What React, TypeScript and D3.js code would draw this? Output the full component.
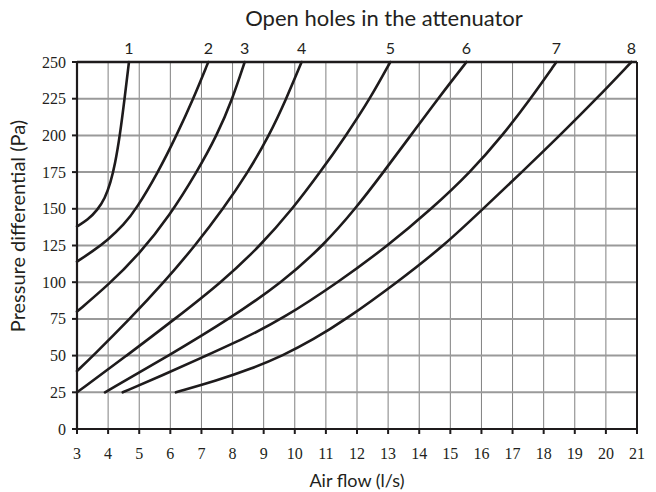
import React from "react";
import * as d3 from "d3";

const xTicks = [3, 4, 5, 6, 7, 8, 9, 10, 11, 12, 13, 14, 15, 16, 17, 18, 19, 20, 21];
const yTicks = [0, 25, 50, 75, 100, 125, 150, 175, 200, 225, 250];
const holeLabels = ["1", "2", "3", "4", "5", "6", "7", "8"];

// [air flow l/s, pressure Pa]
const curve1: [number, number][] = [[3, 138], [3.35, 142.5], [3.65, 149], [3.9, 157], [4.08, 168], [4.22, 180], [4.38, 200], [4.53, 225], [4.67, 250]];
const curve2: [number, number][] = [[3, 114], [3.5, 121], [4, 129], [4.5, 139], [4.91, 150], [5.61, 175], [6.2, 200], [6.74, 225], [7.22, 250]];
const curve3: [number, number][] = [[3, 80], [4, 98], [5, 119], [6, 146], [6.85, 175], [7.5, 200], [8.0, 225], [8.39, 250]];
const curve4: [number, number][] = [[3, 39.5], [3.52, 50], [4.7, 75], [5.8, 100], [6.8, 125], [7.7, 150], [8.5, 175], [9.18, 200], [9.73, 225], [10.22, 250]];
const curve5: [number, number][] = [[3, 25], [4.6, 50], [6.15, 75], [7.65, 100], [8.9, 125], [9.93, 150], [10.82, 175], [11.65, 200], [12.42, 225], [13.07, 250]];
const curve6: [number, number][] = [[3.9, 25], [5.95, 50], [7.9, 75], [9.6, 100], [10.92, 125], [11.95, 150], [12.85, 175], [13.73, 200], [14.6, 225], [15.52, 250]];
const curve7: [number, number][] = [[4.47, 25], [5.8, 37], [7.1, 49.5], [8.4, 62], [9.6, 75], [11.4, 100], [13.0, 125], [14.4, 150], [15.65, 175], [16.68, 200], [17.58, 225], [18.41, 250]];
const curve8: [number, number][] = [[6.18, 25], [7.5, 33], [8.6, 41], [9.62, 50], [10.6, 61], [11.6, 74], [13.3, 100], [14.8, 125], [16.05, 150], [17.3, 175], [18.52, 200], [19.7, 225], [20.82, 250]];
const curves = [curve1, curve2, curve3, curve4, curve5, curve6, curve7, curve8];

const W = 656;
const H = 492;

export default function App() {
  const x = d3.scaleLinear().domain([3, 21]).range([77, 637]);
  const y = d3.scaleLinear().domain([0, 250]).range([429, 62]);
  const line = d3
    .line<[number, number]>()
    .x((d) => x(d[0]))
    .y((d) => y(d[1]))
    .curve(d3.curveBasis);

  const serif = "'Liberation Serif', 'DejaVu Serif', serif";
  const sans = "Lato, 'Open Sans', sans-serif";
  const [x0, x1] = x.range();
  const [y0, y1] = y.range();

  return (
    <svg
      width={W}
      height={H}
      style={{ position: "absolute", left: 0, top: 0, background: "#fff" }}
    >
      {xTicks.slice(1, -1).map((t) => (
        <line key={"vx" + t} x1={x(t)} x2={x(t)} y1={y1} y2={y0} stroke="#808080" strokeWidth={1} />
      ))}
      {yTicks.slice(1, -1).map((t) => (
        <line key={"hy" + t} x1={x0} x2={x1} y1={y(t)} y2={y(t)} stroke="#9a9a9a" strokeWidth={2} />
      ))}
      {curves.map((c, i) => (
        <path key={"c" + i} d={line(c) || ""} fill="none" stroke="#1e1b1c" strokeWidth={2.6} strokeLinecap="round" />
      ))}
      <line x1={x0} x2={x1} y1={y1} y2={y1} stroke="#1e1b1c" strokeWidth={2.5} />
      <line x1={x1} x2={x1} y1={y1} y2={y0} stroke="#1e1b1c" strokeWidth={2} />
      <line x1={x0} x2={x0} y1={y1 - 1} y2={y0 + 1} stroke="#1e1b1c" strokeWidth={2.2} />
      <line x1={x0 - 1} x2={x1 + 1} y1={y0} y2={y0} stroke="#1e1b1c" strokeWidth={2.2} />
      {xTicks.map((t) => (
        <g key={"xt" + t}>
          <line x1={x(t)} x2={x(t)} y1={y0} y2={y0 + 5} stroke="#1e1b1c" strokeWidth={2} />
          <text x={x(t)} y={y0 + 30} textAnchor="middle" fontFamily={serif} fontSize={16} fill="#231f20">
            {t}
          </text>
        </g>
      ))}
      {yTicks.map((t) => (
        <g key={"yt" + t}>
          <line x1={x0 - 5} x2={x0} y1={y(t)} y2={y(t)} stroke="#1e1b1c" strokeWidth={2} />
          <text x={x0 - 11} y={y(t) + 5.5} textAnchor="end" fontFamily={serif} fontSize={16} fill="#231f20">
            {t}
          </text>
        </g>
      ))}
      {curves.map((c, i) => (
        <text key={"hl" + i} x={x(c[c.length - 1][0])} y={54} textAnchor="middle" fontFamily={sans} fontSize={16} fill="#231f20">
          {holeLabels[i]}
        </text>
      ))}
      <text x={384} y={26} textAnchor="middle" fontFamily={sans} fontSize={22} fill="#231f20">
        Open holes in the attenuator
      </text>
      <text x={357} y={487} textAnchor="middle" fontFamily={sans} fontSize={18} fill="#231f20">
        Air flow (l/s)
      </text>
      <text
        transform={`translate(25, 226) rotate(-90)`}
        textAnchor="middle"
        fontFamily={sans}
        fontSize={20}
        fill="#231f20"
      >
        Pressure differential (Pa)
      </text>
    </svg>
  );
}
